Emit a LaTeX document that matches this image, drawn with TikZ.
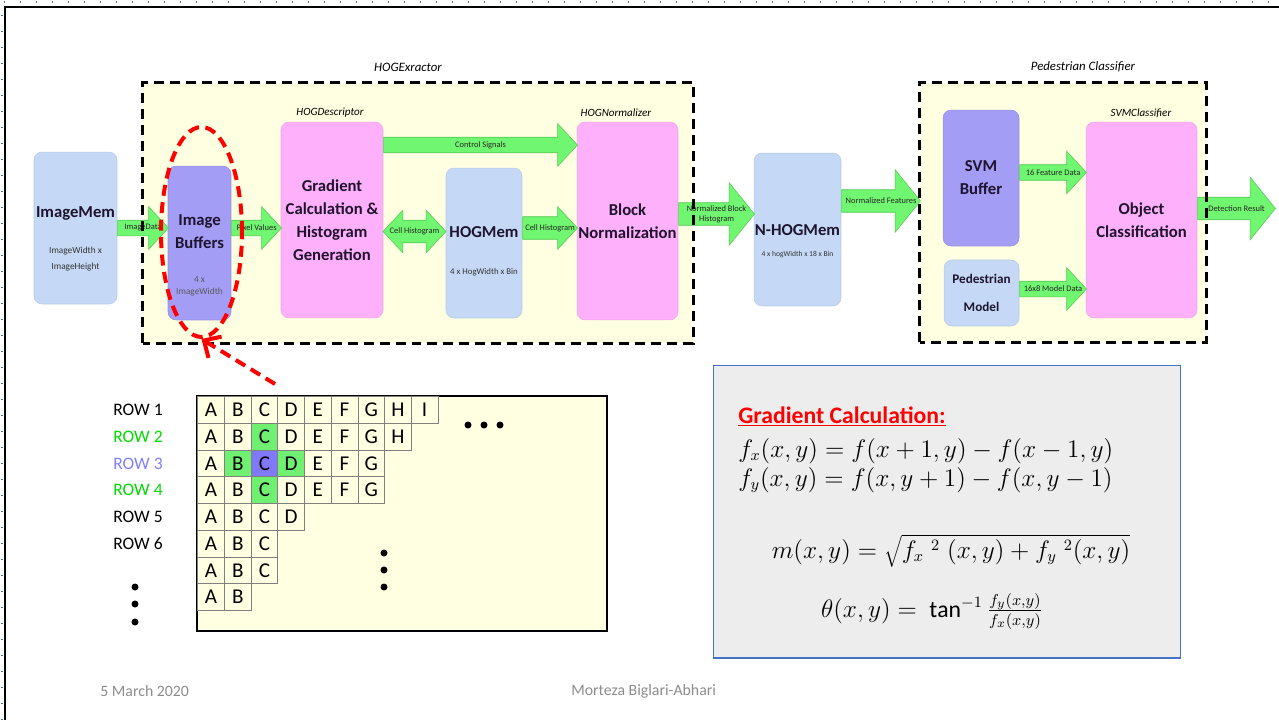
\documentclass[tikz,border=0pt]{standalone}
\usepackage{fontspec}
\setmainfont{Carlito}
\usetikzlibrary{shapes.geometric,shapes.arrows,arrows.meta,calc,positioning}

\definecolor{memblue}{RGB}{197,217,246}
\definecolor{bufpurple}{RGB}{163,157,245}
\definecolor{descpink}{RGB}{255,176,250}
\definecolor{arrowgreen}{RGB}{112,246,112}
\definecolor{arrowedge}{RGB}{86,200,86}
\definecolor{panelyellow}{RGB}{255,255,226}
\definecolor{cellgreen}{RGB}{112,240,112}
\definecolor{cellpurple}{RGB}{128,120,250}
\definecolor{rowgreen}{RGB}{0,220,0}
\definecolor{rowpurple}{RGB}{128,128,255}
\definecolor{formgrey}{RGB}{237,237,237}
\definecolor{formedge}{RGB}{68,114,196}
\definecolor{footgrey}{RGB}{140,140,140}
\definecolor{titletext}{RGB}{30,20,45}
\definecolor{slideblue}{RGB}{68,114,196}

\newcommand\boxfont{\bfseries\fontsize{9.5}{13}\selectfont}

\tikzset{
  panel/.style={rectangle, fill=panelyellow, inner sep=0pt},
  dashbox/.style={line width=0.06cm, dash pattern=on 0.2cm off 0.12cm},
  grouplabel/.style={font=\itshape\fontsize{7.3}{9}\selectfont},
  unitlabel/.style={font=\itshape\fontsize{6.3}{8}\selectfont},
  box/.style={rectangle, rounded corners=0.16cm, fill=#1, draw=#1!92!black,
    line width=0.3pt, inner sep=0pt, align=center, font=\boxfont, text=titletext},
  boxtitle/.style={align=center, font=\boxfont, text=titletext, inner sep=0pt},
  boxsub/.style={align=center, font=\fontsize{5}{8}\selectfont, text=black!80, inner sep=0pt},
  garrow/.style={single arrow, anchor=tail, fill=arrowgreen, draw=arrowedge, line width=0.3pt,
    inner xsep=0pt, inner ysep=0.15cm, text height=0pt, text depth=0pt,
    single arrow head extend=0.27cm, single arrow tip angle=94},
  thick shaft/.style={inner ysep=0.22cm, single arrow head extend=0.2cm},
  big head/.style={single arrow head extend=0.4cm, single arrow tip angle=102},
  gdarrow/.style={double arrow, fill=arrowgreen, draw=arrowedge, line width=0.3pt,
    inner xsep=0pt, inner ysep=0.22cm, text height=0pt, text depth=0pt,
    double arrow head extend=0.2cm, double arrow tip angle=94},
  arrowtext/.style={font=\fontsize{4.8}{5.6}\selectfont, text=black!85, inner sep=0pt, align=center},
  redring/.style={ellipse, draw=red, line width=0.08cm, dash pattern=on 0.22cm off 0.13cm, inner sep=0pt},
  redarrow/.style={draw=red, line width=0.08cm, dash pattern=on 0.22cm off 0.13cm,
    -{Straight Barb[length=0.26cm,width=0.5cm]}},
  gridbox/.style={rectangle, draw=black, line width=0.04cm, fill=panelyellow, inner sep=0pt},
  cell/.style={rectangle, draw=black!50, line width=0.4pt, fill=panelyellow,
    minimum size=0.534cm, inner sep=0pt, font=\fontsize{12}{14}\selectfont},
  cell 2-3/.style={fill=cellgreen},
  cell 3-2/.style={fill=cellgreen},
  cell 3-3/.style={fill=cellpurple},
  cell 3-4/.style={fill=cellgreen},
  cell 4-3/.style={fill=cellgreen},
  rowlabel/.style={anchor=west, inner sep=0pt, font=\fontsize{10}{12}\selectfont},
  formbox/.style={rectangle, fill=formgrey, draw=formedge, line width=0.6pt, inner sep=0pt},
  formula/.style={inner sep=0pt, font=\fontsize{13.5}{16}\selectfont},
  footer/.style={inner sep=0pt, text=footgrey, font=\fontsize{9}{11}\selectfont},
}

\begin{document}
\begin{tikzpicture}[x=0.02cm, y=-0.02cm]
\useasboundingbox (0,0) rectangle (1279,720);

% slide frame
\draw[slideblue, line width=0.04cm, dash pattern=on 0.02cm off 0.3cm] (2,720) -- (2,2) -- (1279,2);
\draw[line width=0.05cm] (5,720) -- (5,7) -- (1279,7);

% module panels
\node[panel, minimum width=11cm, minimum height=5.2cm] (hogx) at (418,213) {};
\node[panel, minimum width=5.72cm, minimum height=5.18cm] (pedc) at (1063,212.5) {};
\node[grouplabel] (hogxlabel) at (408,67) {HOGExractor};
\node[grouplabel] (pedclabel) at (1083,67) {Pedestrian Classifier};

% blocks
\node[box=memblue, minimum width=1.66cm, minimum height=3.04cm] (mem) at (75.5,228) {};
\node[boxtitle] (memtitle) at (75.5,214) {ImageMem};
\node[boxsub, font=\fontsize{5.3}{9.6}\selectfont] (memsub) at (75.5,259) {ImageWidth x\\ImageHeight};

\node[box=bufpurple, minimum width=1.26cm, minimum height=3.08cm] (buf) at (199.5,243) {};
\node[boxtitle] (buftitle) at (199.5,231.5) {Image\\Buffers};
\node[boxsub, text=black!65, font=\fontsize{5.3}{6.8}\selectfont] (bufsub) at (199.5,286) {4 x\\ImageWidth};

\node[box=descpink, minimum width=2.04cm, minimum height=3.92cm] (desc) at (332,220) {Gradient\\Calculation \&\\Histogram\\Generation};
\node[unitlabel] (desclabel) at (330,113) {HOGDescriptor};

\node[box=memblue, minimum width=1.52cm, minimum height=3cm] (hmem) at (484,243) {};
\node[boxtitle] (hmemtitle) at (484,232) {HOGMem};
\node[boxsub] (hmemsub) at (484,272) {4 x HogWidth x Bin};

\node[box=descpink, minimum width=2.02cm, minimum height=3.96cm] (norm) at (627.5,221) {Block\\Normalization};
\node[unitlabel] (normlabel) at (616,113) {HOGNormalizer};

\node[box=memblue, minimum width=1.74cm, minimum height=3.06cm] (nmem) at (797.5,229.5) {};
\node[boxtitle] (nmemtitle) at (797.5,230) {N-HOGMem};
\node[boxsub, font=\fontsize{4.3}{5}\selectfont] (nmemsub) at (797.5,255) {4 x hogWidth x 18 x Bin};

\node[box=bufpurple, minimum width=1.52cm, minimum height=2.72cm] (svmbuf) at (981,178) {SVM\\Buffer};
\node[box=memblue, minimum width=1.5cm, minimum height=1.32cm, font=\bfseries\fontsize{7.5}{16}\selectfont] (pmodel) at (981.5,293) {Pedestrian\\Model};

\node[box=descpink, minimum width=2.22cm, minimum height=3.92cm] (objc) at (1141.5,220) {Object\\Classification};
\node[unitlabel] (objclabel) at (1141,113) {SVMClassifier};

% data paths
\node[garrow, minimum height=1.02cm] (imgdata) at (mem.east) {};
\node[arrowtext] (imgdatatext) at ($(imgdata.tail)!.5!(imgdata.tip)$) {ImageData};

\node[garrow, minimum height=1cm] (pixvals) at (buf.east |- mem.east) {};
\node[arrowtext] (pixvalstext) at ($(pixvals.tail)!.5!(pixvals.tip)$) {Pixel Values};

\node[gdarrow, minimum height=1.26cm] (cellhist) at ($(desc.east)!.5!(hmem.west)$) {};
\node[arrowtext] (cellhisttext) at (cellhist.center) {Cell Histogram};

\node[garrow, thick shaft, minimum height=1.1cm] (cellout) at (hmem.east |- mem.east) {};
\node[arrowtext] (cellouttext) at ($(cellout.tail)!.5!(cellout.tip)$) {Cell Histogram};

\node[garrow, minimum height=3.88cm] (ctrl) at (desc.east |- 0,145) {};
\node[arrowtext] (ctrltext) at ($(ctrl.tail)!.5!(ctrl.tip)$) {Control Signals};

\node[garrow, thick shaft, big head, minimum height=1.52cm] (nbh) at (norm.east |- 0,214) {};
\node[arrowtext] (nbhtext) at ($(nbh.tail)!.5!(nbh.tip)$) {Normalized Block\\Histogram};

\node[garrow, thick shaft, big head, minimum height=1.58cm] (nfeat) at (nmem.east |- 0,201) {};
\node[arrowtext] (nfeattext) at ($(nfeat.tail)!.5!(nfeat.tip)$) {Normalized Features};

\node[garrow, minimum height=1.34cm] (feat) at (svmbuf.east |- 0,172.5) {};
\node[arrowtext] (feattext) at ($(feat.tail)!.5!(feat.tip)$) {16 Feature Data};

\node[garrow, minimum height=1.34cm] (model) at (pmodel.east |- 0,289) {};
\node[arrowtext] (modeltext) at ($(model.tail)!.5!(model.tip)$) {16x8 Model Data};

\node[garrow, thick shaft, big head, minimum height=1.56cm] (detect) at (objc.east |- 0,208.5) {};
\node[arrowtext] (detecttext) at ($(detect.tail)!.5!(detect.tip)$) {Detection Result};

% dashed module borders on top
\draw[dashbox] (hogx.south west) rectangle (hogx.north east);
\draw[dashbox] (pedc.south west) rectangle (pedc.north east);

% buffer highlight
\node[redring, minimum width=1.62cm, minimum height=4.2cm] (ring) at (201.5,232) {};
\coordinate (ringtail) at (275,384);
\draw[redarrow] (ringtail) -- (ring.south);

% line buffer rows
\node[gridbox, minimum width=8.2cm, minimum height=4.7cm] (grid) at (402,513.5) {};
\foreach \r/\n in {1/9,2/8,3/7,4/7,5/4,6/3,7/3,8/2}
  \foreach \c in {1,...,\n}
    \node[cell, cell \r-\c/.try] (cell-\r-\c) at ({211.05+26.7*(\c-1)},{410.05+26.7*(\r-1)}) {\char\numexpr64+\c\relax};
\foreach \r/\col in {1/black,2/rowgreen,3/rowpurple,4/rowgreen,5/black,6/black}
  \node[rowlabel, text=\col] (row\r) at (113,{410.05+26.7*(\r-1)}) {ROW \r};
\foreach \x/\y in {468/425,484/425,500/425,384/553,384/570,384/587,135/587,135/604,135/622}
  \fill (\x,\y) circle[radius=0.07cm];

% gradient formulas
\node[formbox, minimum width=9.36cm, minimum height=5.86cm] (form) at (947,511.5) {};
\node[anchor=base west, inner sep=0pt, text=red, font=\bfseries\fontsize{13.5}{16}\selectfont] (formtitle) at (738,423) {\underline{Gradient Calculation:}};
\node[formula, anchor=base west] (fx) at (738,457) {$f_x(x,y) = f(x+1,y) - f(x-1,y)$};
\node[formula, anchor=base west] (fy) at (738,486) {$f_y(x,y) = f(x,y+1) - f(x,y-1)$};
\node[formula, anchor=base] (mag) at (951,558) {$m(x,y) = \sqrt{f_x\;{}^{2}\;(x,y) + f_y\;{}^{2}(x,y)}$};
\node[formula, anchor=base] (ori) at (932,617) {$\theta(x,y) = \ \tan^{-1}\frac{f_y(x,y)}{f_x(x,y)}$};

% footer
\node[footer, anchor=west] (date) at (100,691) {5 March 2020};
\node[footer, anchor=west] (author) at (571,691) {Morteza Biglari-Abhari};
\end{tikzpicture}
\end{document}
